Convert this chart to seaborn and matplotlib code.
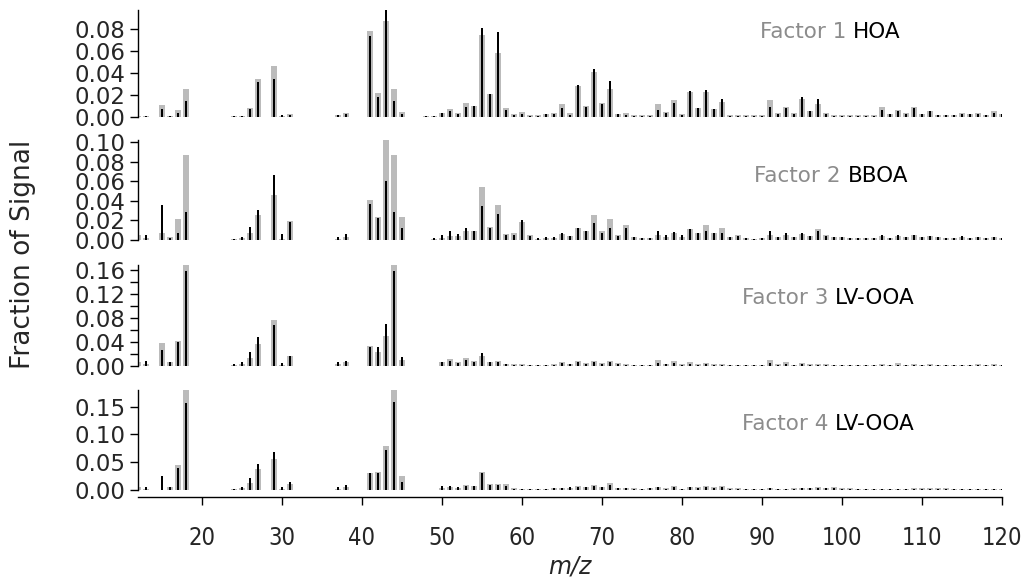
import matplotlib
matplotlib.use("Agg")
import matplotlib.pyplot as plt
from matplotlib.ticker import MultipleLocator, FormatStrFormatter
import numpy as np
import pandas as pd
import seaborn as sns

# m/z channels shown in the spectra
mz = [12, 13, 15, 16, 17, 18, 19, 20, 24, 25, 26, 27, 29, 30, 31, 37, 38,
      41, 42, 43, 44, 45] + list(range(48, 121))

# Factor 1 HOA (gray = this study, black = reference profile)
f1_gray = [0.001, 0.0005, 0.011, 0.001, 0.0064, 0.025, 0.0003, 0.0003, 0.0005, 0.001, 0.008,
           0.0345, 0.046, 0.001, 0.0025, 0.0015, 0.0035, 0.078, 0.022, 0.087, 0.025, 0.0045,
           0.0005, 0.001, 0.0036, 0.0073, 0.0036, 0.0127, 0.0097, 0.0745, 0.021, 0.0575,
           0.0079, 0.0025, 0.0045, 0.0015, 0.0015, 0.003, 0.004, 0.0115, 0.0036, 0.028,
           0.0097, 0.041, 0.0127, 0.0257, 0.003, 0.0035, 0.0015, 0.0015, 0.0015, 0.0118,
           0.0045, 0.0155, 0.0025, 0.023, 0.0085, 0.0224, 0.0073, 0.0136, 0.0015, 0.0015,
           0.0015, 0.0015, 0.0015, 0.015, 0.004, 0.009, 0.004, 0.0164, 0.005, 0.0115,
           0.0035, 0.0015, 0.0015, 0.0015, 0.0015, 0.0015, 0.0015, 0.009, 0.003, 0.0067,
           0.004, 0.009, 0.003, 0.0055, 0.002, 0.002, 0.002, 0.004, 0.003, 0.004,
           0.002, 0.005, 0.003]
f1_black = [0.0008, 0.0005, 0.0075, 0.001, 0.004, 0.014, 0.0002, 0.0002, 0.0005, 0.001, 0.007,
            0.032, 0.0345, 0.002, 0.002, 0.0015, 0.003, 0.073, 0.018, 0.099, 0.014, 0.003,
            0.0005, 0.0008, 0.0035, 0.005, 0.003, 0.009, 0.0097, 0.081, 0.021, 0.077,
            0.006, 0.002, 0.003, 0.0012, 0.0012, 0.0025, 0.003, 0.008, 0.002, 0.029,
            0.009, 0.0436, 0.012, 0.0327, 0.0025, 0.002, 0.0012, 0.0012, 0.0012, 0.0065,
            0.0035, 0.0125, 0.002, 0.0236, 0.008, 0.024, 0.007, 0.0164, 0.0012, 0.0012,
            0.0012, 0.0012, 0.0012, 0.009, 0.003, 0.008, 0.003, 0.0185, 0.005, 0.016,
            0.003, 0.0012, 0.0012, 0.0012, 0.0012, 0.0012, 0.0012, 0.006, 0.0025, 0.005,
            0.003, 0.0085, 0.0025, 0.005, 0.0015, 0.0015, 0.0015, 0.003, 0.0025, 0.003,
            0.0015, 0.004, 0.0025]

# Factor 2 BBOA
f2_gray = [0.0047, 0.0024, 0.0075, 0.0034, 0.0217, 0.087, 0.0005, 0.0005, 0.001, 0.002, 0.0068,
           0.025, 0.0454, 0.001, 0.019, 0.0014, 0.0034, 0.0403, 0.0237, 0.102, 0.087, 0.0237,
           0.0005, 0.001, 0.002, 0.004, 0.004, 0.009, 0.0088, 0.054, 0.0136, 0.036,
           0.0064, 0.0075, 0.0183, 0.0054, 0.0015, 0.002, 0.002, 0.0058, 0.004, 0.0125,
           0.0095, 0.025, 0.0095, 0.0217, 0.0047, 0.015, 0.0034, 0.002, 0.002, 0.0054,
           0.0034, 0.007, 0.0034, 0.011, 0.0068, 0.015, 0.007, 0.012, 0.0034, 0.005,
           0.002, 0.0015, 0.002, 0.0047, 0.003, 0.0047, 0.003, 0.0064, 0.004, 0.011,
           0.0047, 0.003, 0.003, 0.002, 0.002, 0.002, 0.002, 0.004, 0.002, 0.004,
           0.003, 0.0047, 0.003, 0.004, 0.003, 0.002, 0.002, 0.0034, 0.002, 0.003,
           0.002, 0.003, 0.002]
f2_black = [0.001, 0.0047, 0.036, 0.002, 0.0068, 0.0285, 0.0003, 0.0003, 0.0015, 0.0034, 0.0136,
            0.031, 0.0658, 0.0058, 0.0183, 0.0034, 0.006, 0.0363, 0.0224, 0.06, 0.0285, 0.0125,
            0.0005, 0.002, 0.0047, 0.0088, 0.0058, 0.012, 0.0088, 0.035, 0.012, 0.027,
            0.0047, 0.0054, 0.02, 0.004, 0.002, 0.0027, 0.0034, 0.0068, 0.004, 0.012,
            0.009, 0.0176, 0.0075, 0.012, 0.004, 0.012, 0.003, 0.002, 0.002, 0.009,
            0.0047, 0.0085, 0.0047, 0.011, 0.0068, 0.0095, 0.007, 0.0075, 0.003, 0.004,
            0.002, 0.0015, 0.002, 0.009, 0.003, 0.0075, 0.003, 0.0068, 0.004, 0.0088,
            0.004, 0.003, 0.003, 0.002, 0.002, 0.002, 0.002, 0.0054, 0.002, 0.0054,
            0.003, 0.005, 0.003, 0.004, 0.003, 0.002, 0.002, 0.004, 0.002, 0.003,
            0.002, 0.003, 0.002]

# Factor 3 LV-OOA
f3_gray = [0.0067, 0.003, 0.038, 0.0067, 0.042, 0.168, 0.0005, 0.0005, 0.001, 0.003, 0.0133,
           0.0367, 0.076, 0.002, 0.0167, 0.003, 0.0067, 0.034, 0.023, 0.05, 0.168, 0.0094,
           0.0005, 0.0008, 0.0067, 0.011, 0.0067, 0.014, 0.008, 0.016, 0.007, 0.008,
           0.004, 0.003, 0.003, 0.002, 0.002, 0.002, 0.003, 0.006, 0.004, 0.009,
           0.005, 0.009, 0.005, 0.008, 0.005, 0.004, 0.002, 0.002, 0.002, 0.01,
           0.004, 0.008, 0.003, 0.006, 0.003, 0.005, 0.003, 0.003, 0.002, 0.002,
           0.002, 0.002, 0.002, 0.01, 0.003, 0.006, 0.002, 0.005, 0.003, 0.004,
           0.003, 0.002, 0.002, 0.002, 0.002, 0.002, 0.002, 0.004, 0.002, 0.005,
           0.002, 0.004, 0.002, 0.003, 0.002, 0.002, 0.002, 0.002, 0.002, 0.004,
           0.002, 0.003, 0.002]
f3_black = [0.002, 0.0078, 0.026, 0.006, 0.04, 0.158, 0.0003, 0.0003, 0.004, 0.0067, 0.023,
            0.048, 0.069, 0.0055, 0.0167, 0.0067, 0.009, 0.032, 0.031, 0.0705, 0.158, 0.015,
            0.0003, 0.0005, 0.006, 0.009, 0.005, 0.01, 0.006, 0.022, 0.006, 0.007,
            0.003, 0.002, 0.002, 0.0015, 0.0015, 0.0015, 0.002, 0.005, 0.003, 0.007,
            0.004, 0.007, 0.004, 0.006, 0.003, 0.002, 0.001, 0.001, 0.001, 0.005,
            0.003, 0.005, 0.002, 0.004, 0.002, 0.003, 0.002, 0.002, 0.001, 0.001,
            0.001, 0.001, 0.001, 0.005, 0.002, 0.003, 0.001, 0.003, 0.002, 0.002,
            0.002, 0.001, 0.001, 0.001, 0.001, 0.001, 0.001, 0.002, 0.001, 0.002,
            0.001, 0.002, 0.001, 0.002, 0.001, 0.001, 0.001, 0.001, 0.001, 0.002,
            0.001, 0.002, 0.001]

# Factor 4 LV-OOA
f4_gray = [0.005, 0.0024, 0.0005, 0.006, 0.045, 0.18, 0.0005, 0.0005, 0.001, 0.003, 0.013,
           0.037, 0.056, 0.001, 0.011, 0.0024, 0.005, 0.031, 0.032, 0.079, 0.18, 0.025,
           0.0005, 0.0005, 0.003, 0.005, 0.003, 0.009, 0.008, 0.033, 0.011, 0.011,
           0.01, 0.003, 0.002, 0.002, 0.002, 0.002, 0.003, 0.003, 0.004, 0.007,
           0.006, 0.009, 0.006, 0.012, 0.004, 0.004, 0.003, 0.002, 0.003, 0.005,
           0.003, 0.007, 0.002, 0.006, 0.005, 0.007, 0.005, 0.008, 0.003, 0.003,
           0.002, 0.002, 0.002, 0.003, 0.002, 0.002, 0.003, 0.004, 0.004, 0.005,
           0.004, 0.005, 0.003, 0.003, 0.002, 0.002, 0.002, 0.002, 0.002, 0.002,
           0.002, 0.003, 0.003, 0.003, 0.003, 0.003, 0.002, 0.002, 0.002, 0.002,
           0.002, 0.002, 0.002]
f4_black = [0.004, 0.006, 0.025, 0.005, 0.039, 0.157, 0.0003, 0.0003, 0.002, 0.006, 0.0216,
            0.047, 0.068, 0.005, 0.015, 0.006, 0.0084, 0.031, 0.030, 0.072, 0.158, 0.015,
            0.0003, 0.0003, 0.007, 0.007, 0.006, 0.008, 0.007, 0.031, 0.009, 0.009,
            0.008, 0.002, 0.0015, 0.0015, 0.0015, 0.0015, 0.003, 0.003, 0.005, 0.006,
            0.005, 0.008, 0.006, 0.009, 0.003, 0.003, 0.002, 0.0015, 0.003, 0.005,
            0.002, 0.006, 0.0015, 0.005, 0.004, 0.005, 0.004, 0.005, 0.002, 0.002,
            0.0015, 0.0015, 0.0015, 0.004, 0.0015, 0.0015, 0.002, 0.003, 0.003, 0.003,
            0.003, 0.003, 0.002, 0.002, 0.0015, 0.0015, 0.0015, 0.0015, 0.0015, 0.0015,
            0.0015, 0.002, 0.002, 0.002, 0.002, 0.002, 0.0015, 0.0015, 0.0015, 0.0015,
            0.0015, 0.0015, 0.0015]

factor_nums = ["Factor 1 ", "Factor 2 ", "Factor 3 ", "Factor 4 "]
factor_names = ["HOA", "BBOA", "LV-OOA", "LV-OOA"]

sns.set_style("ticks")
plt.rcParams['font.family'] = ['DejaVu Sans']

fig = plt.figure(figsize=(10.32, 5.79), dpi=100)

# axes boxes (left, bottom, width, height) in figure fraction
boxes = [(0.1337, 0.798, 0.8372, 0.185),
         (0.1337, 0.5855, 0.8372, 0.1727),
         (0.1337, 0.3679, 0.8372, 0.1744),
         (0.1337, 0.1537, 0.8372, 0.1727)]
ylims = [0.097, 0.102, 0.168, 0.18]
ysteps = [0.02, 0.02, 0.04, 0.05]
text_x = [0.72, 0.713, 0.699, 0.699]
text_y = [0.79, 0.64, 0.67, 0.66]

series = [(f1_gray, f1_black), (f2_gray, f2_black),
          (f3_gray, f3_black), (f4_gray, f4_black)]

for i, (gray, black) in enumerate(series):
    ax = fig.add_axes(boxes[i])
    df = pd.DataFrame({'mz': mz, 'gray': gray, 'black': black})
    sns.barplot(data=df, x='mz', y='gray', ax=ax, native_scale=True,
                color='#bbbbbb', saturation=1, width=0.65, errorbar=None,
                linewidth=0)
    sns.barplot(data=df, x='mz', y='black', ax=ax, native_scale=True,
                color='black', saturation=1, width=0.2, errorbar=None,
                linewidth=0)
    ax.set_xlim(12, 120)
    ax.set_ylim(0, ylims[i])
    ax.set_xlabel('')
    ax.set_ylabel('')
    ax.yaxis.set_major_locator(MultipleLocator(ysteps[i]))
    ax.yaxis.set_major_formatter(FormatStrFormatter('%.2f'))
    if i == 2:
        ax.yaxis.set_minor_locator(MultipleLocator(0.02))
        ax.tick_params(axis='y', which='minor', length=6, width=1, color='black')
    ax.tick_params(axis='y', which='major', labelsize=16.5, length=6, width=1,
                   color='black', pad=3)
    ax.spines['top'].set_visible(False)
    ax.spines['right'].set_visible(False)
    ax.spines['left'].set_color('black')
    ax.spines['left'].set_linewidth(1)
    ax.patch.set_visible(False)

    # two-colour factor label
    t1 = ax.text(text_x[i], text_y[i], factor_nums[i], transform=ax.transAxes,
                 color='#8c8c8c', fontsize=15.5, va='center', ha='left')
    ax.annotate(factor_names[i], xy=(1, 0), xycoords=t1, va='bottom',
                ha='left', color='black', fontsize=15.5)

    if i < 3:
        ax.spines['bottom'].set_visible(False)
        ax.tick_params(axis='x', which='both', bottom=False, labelbottom=False)
    else:
        ax.spines['bottom'].set_position(('outward', 5))
        ax.spines['bottom'].set_color('black')
        ax.spines['bottom'].set_linewidth(1)
        ax.set_xticks(np.arange(20, 121, 10))
        ax.tick_params(axis='x', labelsize=17, length=6, width=1,
                       color='black', pad=15)
        for lab in ax.get_xticklabels():
            lab.set_fontstretch('condensed')
        ax.set_xlabel('m/z', fontsize=17, style='italic', labelpad=3)

fig.text(0.022, 0.56, 'Fraction of Signal', rotation=90, fontsize=19,
         va='center', ha='center')

fig.savefig('out.png', dpi=100)
